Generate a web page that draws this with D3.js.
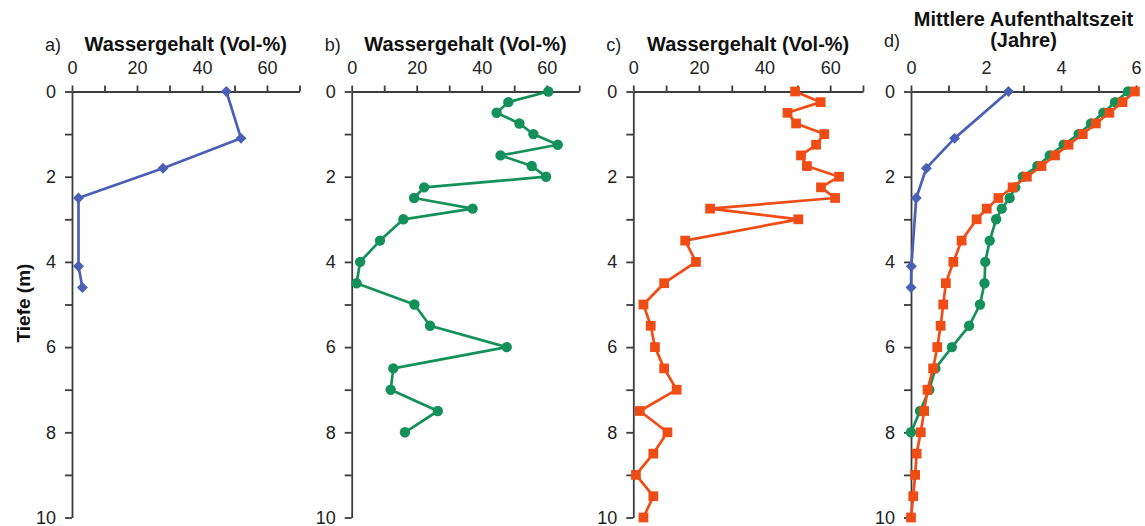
<!DOCTYPE html>
<html>
<head>
<meta charset="utf-8">
<script src="https://cdn.jsdelivr.net/npm/d3@7"></script>
<style>
body{margin:0;background:#fff;}
svg{display:block;font-family:"Liberation Sans",Arial,sans-serif;}
</style>
</head>
<body>
<svg id="chart"></svg>
<script>
// Tiefe (m) der Messpunkte
var depthA=[0,1.1,1.8,2.5,4.1,4.6];
var depthB=[0,0.25,0.5,0.75,1,1.25,1.5,1.75,2,2.25,2.5,2.75,3,3.5,4,4.5,5,5.5,6,6.5,7,7.5,8];
var depthC=[0,0.25,0.5,0.75,1,1.25,1.5,1.75,2,2.25,2.5,2.75,3,3.5,4,4.5,5,5.5,6,6.5,7,7.5,8,8.5,9,9.5,10];

// Wassergehalt (Vol-%)
var waterA=[47.5,52,28,2,2,3.2];
var waterB=[60.5,48.2,44.6,51.6,55.9,63.4,45.8,55.4,59.8,22.3,19.2,37.2,15.9,8.7,2.6,1.5,19.3,24.1,47.7,12.8,12.0,26.5,16.4];
var waterC=[49.3,57.1,47.0,49.6,58.2,55.7,51.1,52.9,62.7,57.2,61.5,23.4,50.3,15.8,19.1,9.4,3.1,5.3,6.6,9.4,13.2,2.0,10.4,6.1,0.8,6.1,3.1];

// Mittlere Aufenthaltszeit (Jahre)
var timeA=[2.6,1.16,0.41,0.14,0.01,0.0];
var timeB=[5.79,5.44,5.13,4.8,4.47,4.07,3.7,3.37,2.98,2.78,2.63,2.42,2.27,2.1,1.98,1.96,1.84,1.55,1.09,0.65,0.49,0.24,0.0];
var timeC=[5.97,5.64,5.29,4.93,4.58,4.2,3.84,3.48,3.09,2.71,2.33,2.02,1.75,1.35,1.13,0.93,0.86,0.79,0.7,0.59,0.44,0.35,0.26,0.15,0.11,0.06,0.0];

var waterTicks=[0,10,20,30,40,50,60,70];
var timeTicks=[0,1,2,3,4,5,6];
var depthTicks=[0,1,2,3,4,5,6,7,8,9,10];

var width=1145;
var height=526;
var blue="#4a60b6";
var green="#14915a";
var red="#f04c16";
var axisColor="#3c3c3c";

var svg=d3.select("#chart")
.attr("width",width)
.attr("height",height);

var y=d3.scaleLinear().domain([0,10]).range([91.5,517.5]);

var panels=[
  {letter:"a)",title:["Wassergehalt (Vol-%)"],x0:72,x1:299.5,max:70,ticks:waterTicks,
   series:[{x:waterA,d:depthA,color:blue,shape:"diamond"}]},
  {letter:"b)",title:["Wassergehalt (Vol-%)"],x0:351.7,x1:579.2,max:70,ticks:waterTicks,
   series:[{x:waterB,d:depthB,color:green,shape:"circle"}]},
  {letter:"c)",title:["Wassergehalt (Vol-%)"],x0:633.3,x1:863,max:70,ticks:waterTicks,
   series:[{x:waterC,d:depthC,color:red,shape:"square"}]},
  {letter:"d)",title:["Mittlere Aufenthaltszeit","(Jahre)"],x0:911,x1:1136,max:6,ticks:timeTicks,
   series:[{x:timeB,d:depthB,color:green,shape:"circle"},
           {x:timeC,d:depthC,color:red,shape:"square"},
           {x:timeA,d:depthA,color:blue,shape:"diamond"}]}
];

var drawPanel=function(p)
{
  var x=d3.scaleLinear().domain([0,p.max]).range([p.x0,p.x1]);
  var g=svg.append("g");

  var xAxis=d3.axisTop(x)
  .tickValues(p.ticks)
  .tickSize(6)
  .tickSizeOuter(0)
  .tickPadding(12)
  .tickFormat(function(d,i){return i%2==0 ? d : "";});

  g.append("g")
  .attr("transform","translate(0,"+y(0)+")")
  .call(xAxis);

  var yAxis=d3.axisLeft(y)
  .tickValues(depthTicks)
  .tickSize(7)
  .tickSizeOuter(0)
  .tickPadding(9)
  .tickFormat(function(d){return d%2==0 ? d : "";});

  g.append("g")
  .attr("transform","translate("+x(0)+",0)")
  .call(yAxis);

  g.selectAll(".domain,.tick line")
  .attr("stroke",axisColor)
  .attr("stroke-width",1.8);
  g.selectAll(".tick text")
  .attr("fill","#222")
  .style("font-size","18px");

  // Titel
  var mid=(p.x0+p.x1)/2;
  var lastBase=p.title.length==1 ? 51 : 47;
  p.title.forEach(function(t,i){
    g.append("text")
    .attr("x",mid)
    .attr("y",lastBase-(p.title.length-1-i)*21)
    .attr("text-anchor","middle")
    .style("font-size","20px")
    .style("font-weight","bold")
    .attr("fill","#111")
    .text(t);
  });
  g.append("text")
  .attr("x",p.x0-27)
  .attr("y",lastBase)
  .style("font-size","18px")
  .attr("fill","#222")
  .text(p.letter);

  p.series.forEach(function(s){
    var pts=s.x.map(function(v,i){return [v,s.d[i]];});
    var line=d3.line()
    .x(function(d){return x(d[0]);})
    .y(function(d){return y(d[1]);});

    g.append("path")
    .datum(pts)
    .attr("d",line)
    .attr("fill","none")
    .attr("stroke",s.color)
    .attr("stroke-width",2.7)
    .attr("stroke-linejoin","round");

    var sym;
    if (s.shape=="circle"){sym=d3.symbol().type(d3.symbolCircle).size(85);}
    else if (s.shape=="square"){sym=d3.symbol().type(d3.symbolSquare).size(95);}
    else {sym=d3.symbol().type(d3.symbolSquare).size(60);}

    g.selectAll(null)
    .data(pts)
    .enter()
    .append("path")
    .attr("d",sym)
    .attr("transform",function(d){
      var t="translate("+x(d[0])+","+y(d[1])+")";
      if (s.shape=="diamond"){t+=" rotate(45)";}
      return t;})
    .attr("fill",s.color);
  });
}

panels.forEach(drawPanel);

svg.append("text")
.attr("transform","translate(30,303) rotate(-90)")
.attr("text-anchor","middle")
.style("font-size","19px")
.style("font-weight","bold")
.attr("fill","#111")
.text("Tiefe (m)");
</script>
</body>
</html>
